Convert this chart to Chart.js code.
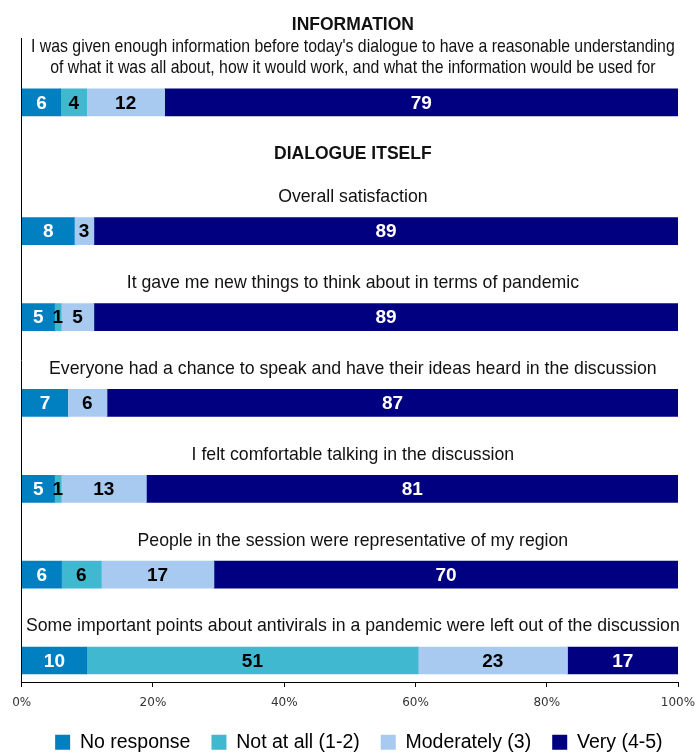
<!DOCTYPE html>
<html>
<head>
<meta charset="utf-8">
<script src="https://cdn.jsdelivr.net/npm/chart.js@4"></script>
<style>
  html, body { margin: 0; padding: 0; background: #fff; }
  #wrap { width: 696px; height: 754px; }
</style>
</head>
<body>
<div id="wrap"><canvas id="chart"></canvas></div>
<script>
// question texts (one entry per bar, lines split)
const questions = [
  ["I was given enough information before today's dialogue to have a reasonable understanding",
   "of what it was all about, how it would work, and what the information would be used for"],
  ["Overall satisfaction"],
  ["It gave me new things to think about in terms of pandemic"],
  ["Everyone had a chance to speak and have their ideas heard in the discussion"],
  ["I felt comfortable talking in the discussion"],
  ["People in the session were representative of my region"],
  ["Some important points about antivirals in a pandemic were left out of the discussion"]
];
const headings = ["INFORMATION", "DIALOGUE ITSELF"];
const headingBefore = [0, 1]; // index of the question each heading sits over

const seriesNames = ["No response", "Not at all (1-2)", "Moderately (3)", "Very (4-5)"];
const noResponse = [6, 8, 5, 7, 5, 6, 10];
const notAtAll   = [4, 0, 1, 0, 1, 6, 51];
const moderately = [12, 3, 5, 6, 13, 17, 23];
const very       = [79, 89, 89, 87, 81, 70, 17];
const xTicks = [0, 20, 40, 60, 80, 100];

const series = [noResponse, notAtAll, moderately, very];
const colours = ["#0080c0", "#40b8d0", "#a8caf0", "#000080"];
const labelColours = ["#fff", "#000", "#000", "#fff"];

// each heading pushes the following bars down by half a slot
let slots = [];
let shift = -0.5;
questions.forEach((q, i) => {
  if (headingBefore.includes(i)) shift += 0.5;
  slots.push(i + shift);
});

// bars are 100% stacked, so plot each answer as share of its row
let totals = questions.map((q, i) => series.reduce((s, arr) => s + arr[i], 0));

const textPlugin = {
  id: 'texts',
  afterDatasetsDraw(chart) {
    const ctx = chart.ctx;
    const yScale = chart.scales.y;
    const area = chart.chartArea;
    const cx = (area.left + area.right) / 2 + 3;
    ctx.save();
    ctx.textAlign = 'center';
    ctx.textBaseline = 'middle';

    // numbers inside segments
    ctx.font = 'bold 19px "Liberation Sans", Arial, sans-serif';
    chart.data.datasets.forEach((ds, d) => {
      chart.getDatasetMeta(d).data.forEach((bar, i) => {
        let v = series[d][i];
        if (!v) return;
        ctx.fillStyle = labelColours[d];
        ctx.fillText(v, (bar.x + bar.base) / 2, bar.y + 1);
      });
    });

    // question titles above each bar (two-line ones are set condensed)
    ctx.fillStyle = '#111';
    questions.forEach((lines, i) => {
      let yBar = yScale.getPixelForValue(slots[i]);
      let squeeze = lines.length > 1 ? 0.895 : 1;
      ctx.font = '17.7px "Liberation Sans", Arial, sans-serif';
      lines.forEach((line, k) => {
        ctx.save();
        ctx.translate(cx, yBar - 34 - (lines.length - 1 - k) * 21);
        ctx.scale(squeeze, 1);
        ctx.fillText(line, 0, 0);
        ctx.restore();
      });
      let h = headingBefore.indexOf(i);
      if (h >= 0) {
        ctx.font = 'bold 17.5px "Liberation Sans", Arial, sans-serif';
        ctx.fillText(headings[h], cx, yBar - 77);
      }
    });
    ctx.restore();
  }
};

new Chart(document.getElementById('chart'), {
  type: 'bar',
  data: {
    datasets: series.map((arr, d) => ({
      label: seriesNames[d],
      data: arr.map((v, i) => ({ x: v / totals[i] * 100, y: slots[i] })),
      backgroundColor: colours[d],
      borderWidth: 0,
      barThickness: 27
    }))
  },
  options: {
    indexAxis: 'y',
    responsive: true,
    maintainAspectRatio: false,
    animation: false,
    layout: { padding: { top: 38, left: 21.7, right: 0, bottom: -8 } },
    scales: {
      x: {
        type: 'linear',
        stacked: true,
        min: 0,
        max: 100,
        afterBuildTicks: s => { s.ticks = xTicks.map(v => ({ value: v })); },
        afterFit: s => { s.paddingLeft = 10; s.paddingRight = 18; s.height = 29.5; },
        ticks: {
          callback: v => v + '%',
          font: { family: '"DejaVu Sans", Verdana, sans-serif', size: 12 },
          color: '#333',
          padding: 9,
          maxRotation: 0
        },
        grid: { display: true, drawOnChartArea: false, drawTicks: true, tickLength: 5, color: '#000' },
        border: { display: true, color: '#000', width: 1 }
      },
      y: {
        type: 'linear',
        stacked: true,
        reverse: true,
        offset: false,
        min: slots[0] - 0.75,
        max: slots[slots.length - 1] + 0.25,
        ticks: { display: false },
        grid: { display: false, drawTicks: false, offset: false },
        border: { display: true, color: '#000', width: 1 }
      }
    },
    plugins: {
      legend: {
        position: 'bottom',
        labels: {
          boxWidth: 15,
          boxHeight: 15,
          padding: 21,
          color: '#000',
          font: { family: '"Liberation Sans", Arial, sans-serif', size: 19.5 }
        }
      },
      tooltip: { enabled: false }
    }
  },
  plugins: [textPlugin]
});
</script>
</body>
</html>
